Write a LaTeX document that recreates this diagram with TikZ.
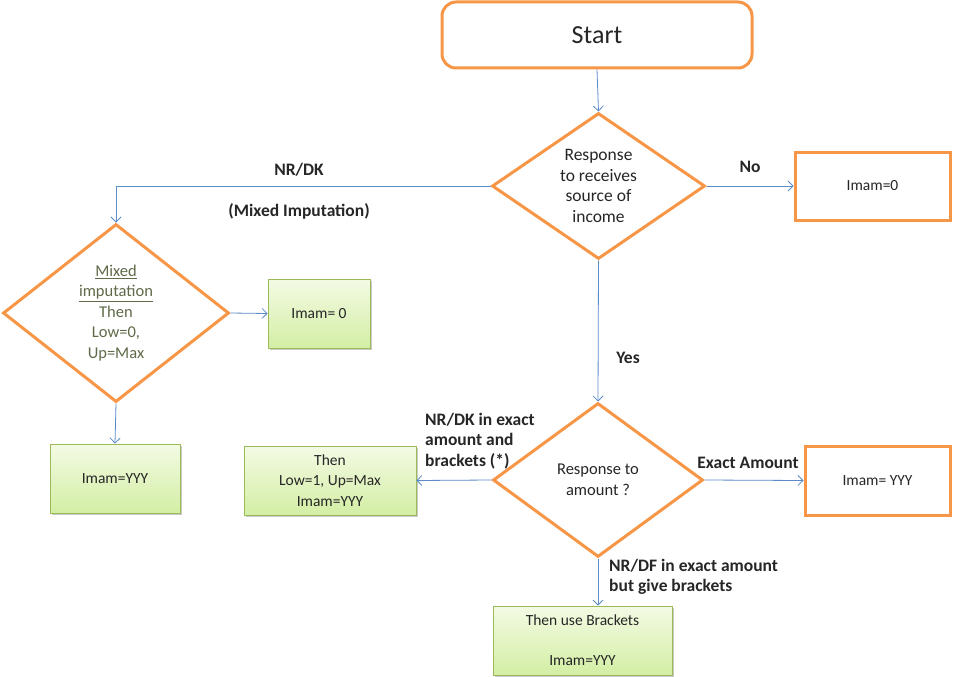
\documentclass[tikz,border=0pt]{standalone}
\usepackage{fontspec}
\setmainfont{Carlito}
\usetikzlibrary{shapes.geometric,arrows.meta,shadows}
\definecolor{orangeB}{HTML}{F79646}
\definecolor{blueL}{HTML}{5B8BC9}
\definecolor{greenB}{HTML}{9BBB59}
\definecolor{greenT}{HTML}{F3FBE4}
\definecolor{greenBot}{HTML}{D3EEA4}
\definecolor{txt}{HTML}{262626}
\definecolor{olivetxt}{HTML}{5E6A48}
\tikzset{
  base/.style={font=\fontsize{15.5}{20.5}\selectfont, text=txt},
  dfont/.style={font=\fontsize{16.5}{20.5}\selectfont},
  obox/.style={base, draw=orangeB, line width=3pt, fill=white, inner sep=0pt},
  gbox/.style={base, draw=greenB, line width=0.8pt, top color=greenT, bottom color=greenBot, inner sep=0pt,
    drop shadow={shadow xshift=2pt, shadow yshift=-2pt, opacity=0.35, fill=black!60}},
  dia/.style={base, dfont, diamond, draw=orangeB, line width=3pt, fill=white, inner sep=0pt, align=center},
  arr/.style={draw=blueL, line width=0.8pt, -{Straight Barb[length=5pt,width=10pt]}},
  lbl/.style={font=\bfseries\fontsize{17.5}{20.5}\selectfont, text=txt},
}
\begin{document}
\begin{tikzpicture}[x=1pt,y=-1pt]
\useasboundingbox (0,0) rectangle (953,677);
% nodes
\node[obox, rounded corners=14pt, minimum width=310pt, minimum height=66pt, font=\fontsize{26}{30}\selectfont] (start) at (597,35) {Start};
\node[dia, minimum width=213pt, minimum height=146pt, aspect=1.46, font=\fontsize{17.5}{20.5}\selectfont] (d1) at (598.5,186) {Response\\to receives\\source of\\income};
\node[obox, minimum width=155pt, minimum height=68pt] (no0) at (872.5,186) {Imam=0};
\node[dia, minimum width=226pt, minimum height=178pt, aspect=1.27, text=olivetxt] (d2) at (116,313) {\underline{Mixed}\\\underline{imputation}\\Then\\Low=0,\\Up=Max};
\node[gbox, minimum width=102pt, minimum height=69pt] (g0) at (319,313.5) {Imam= 0};
\node[gbox, minimum width=130pt, minimum height=69pt] (gy) at (115,478.5) {Imam=YYY};
\node[dia, minimum width=210pt, minimum height=154pt, aspect=1.36] (d3) at (598,480) {Response to\\amount ?};
\node[gbox, minimum width=172pt, minimum height=69pt, align=center] (gl) at (330,480.5) {Then\\Low=1, Up=Max\\Imam=YYY};
\node[obox, minimum width=145pt, minimum height=69pt] (ey) at (877.5,480.5) {Imam= YYY};
\node[gbox, minimum width=179pt, minimum height=69pt, align=center] (gb) at (582.5,640.5) {Then use Brackets\\[19.5pt]Imam=YYY};
% labels
\node[lbl] (l1) at (299,170) {NR/DK};
\node[lbl] (l2) at (299,211) {(Mixed Imputation)};
\node[lbl] (l3) at (750,167) {No};
\node[lbl] (l4) at (628,358) {Yes};
\node[lbl] (l5) at (748,463) {Exact Amount};
\node[lbl, align=left, anchor=north west, inner sep=0pt] (l6) at (425,413) {NR/DK in exact\\amount and\\brackets (*)};
\node[lbl, align=left, anchor=north west, inner sep=0pt] (l7) at (609,559) {NR/DF in exact amount\\but give brackets};
% connectors
\draw[arr] (start.south) -- (d1.north);
\draw[arr] (d1.east) -- (no0.west);
\draw[arr] (d1.west) -| (d2.north);
\draw[arr] (d2.east) -- (g0.west);
\draw[arr] (d2.south) -- (gy.north);
\draw[arr] (d1.south) -- (d3.north);
\draw[arr] (d3.east) -- (ey.west);
\draw[arr] (d3.west) -- (gl.east);
\draw[arr] (d3.south) -- (d3.south |- gb.north);
\end{tikzpicture}
\end{document}
